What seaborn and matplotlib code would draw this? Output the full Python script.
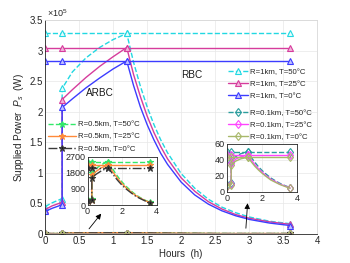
import numpy as np
import matplotlib
matplotlib.use('Agg')
import matplotlib.pyplot as plt
import seaborn as sns
from matplotlib.lines import Line2D
from matplotlib.ticker import FuncFormatter

# ---- data ----
temps = [50, 25, 0]

# R = 1 km, supplied power in units of 1e5 W
hours_1km = [0, 0.1, 0.25, 0.25, 0.4, 0.6, 0.8, 1.0, 1.2, 1.3, 1.4, 1.5, 1.6, 1.7,
             1.8, 2.0, 2.2, 2.4, 2.6, 2.8, 3.0, 3.3, 3.6]
p_1km_50 = [0.45, 0.51, 0.58, 2.38, 2.65, 2.88, 3.05, 3.18, 3.28, 2.81, 2.42, 2.08, 1.79, 1.54,
            1.33, 0.99, 0.75, 0.57, 0.44, 0.35, 0.28, 0.21, 0.17]
p_1km_25 = [0.40, 0.46, 0.52, 2.20, 2.36, 2.56, 2.74, 2.90, 3.05, 2.61, 2.25, 1.93, 1.66, 1.43,
            1.23, 0.92, 0.70, 0.53, 0.41, 0.32, 0.26, 0.20, 0.16]
p_1km_0 = [0.37, 0.42, 0.48, 2.07, 2.21, 2.39, 2.55, 2.70, 2.83, 2.43, 2.08, 1.79, 1.54, 1.32,
           1.14, 0.85, 0.64, 0.49, 0.38, 0.30, 0.24, 0.18, 0.14]

# R = 0.5 km and R = 0.1 km, supplied power in W
hours_short = [0, 0.1, 0.25, 0.25, 0.5, 0.8, 1.2, 1.4, 1.6, 1.8, 2.0, 2.2, 2.5, 2.8, 3.0, 3.3, 3.6]
p_05km_50 = [280, 305, 330, 1770, 2040, 2260, 2420, 2100, 1790, 1520, 1280, 1070, 800, 560, 440, 280, 150]
p_05km_25 = [250, 275, 300, 1650, 1880, 2080, 2240, 1940, 1660, 1410, 1190, 990, 740, 520, 410, 260, 140]
p_05km_0 = [230, 255, 280, 1530, 1720, 1910, 2085, 1810, 1540, 1310, 1100, 920, 690, 480, 380, 240, 130]
p_01km_50 = [9, 10, 11, 38, 44, 48, 50, 43, 37, 31.5, 27, 23, 17.5, 13.5, 11, 8, 5.5]
p_01km_25 = [8, 9, 10, 36, 41, 44, 46, 40, 34, 29, 25, 21, 16, 12.5, 10, 7.5, 5]
p_01km_0 = [7.5, 8.5, 9, 34, 38.5, 41.5, 43.4, 37.5, 32, 27.5, 23.5, 20, 15, 11.7, 9.5, 7, 4.7]

# rated (maximum) power levels
hours_cap = [0, 0.25, 1.2, 3.6]
cap_1km = [3.28, 3.05, 2.83]   # 1e5 W
cap_05km = [2420, 2240, 2085]  # W
cap_01km = [50, 46, 43.4]      # W

# ---- styles ----
style_1km = [dict(color='#22d8e2', ls='--', marker='^', mfc='#e6fbfc'),
             dict(color='#d63c9c', ls='-', marker='^', mfc='#f2b4da'),
             dict(color='#3c3cff', ls='-', marker='^', mfc='#c0c0ff')]
style_05km = [dict(color='#33e86a', ls='--', marker='*', mfc='#33e86a'),
              dict(color='#ff8a3a', ls='-', marker='*', mfc='#ff8a3a'),
              dict(color='#3a3a3a', ls='-.', marker='*', mfc='#1a1a1a')]
style_01km = [dict(color='#2a9d9d', ls='--', marker='d', mfc='none'),
              dict(color='#ff44ff', ls='-', marker='d', mfc='none'),
              dict(color='#a8b86a', ls='-', marker='d', mfc='none')]

idx_1km = [0, 2, 3, 8, 22]
idx_short = [0, 2, 3, 6, 16]


def draw(ax, x, y, st, every, lw=1.0, ms=4.5):
    sns.lineplot(x=x, y=y, ax=ax, sort=False, estimator=None, legend=False,
                 color=st['color'], linestyle=st['ls'], marker=st['marker'],
                 markevery=every, markersize=ms, markerfacecolor=st['mfc'],
                 markeredgecolor=st['color'], markeredgewidth=0.8, linewidth=lw)


def style_axes(ax, fs=6.5):
    ax.tick_params(direction='in', length=2, labelsize=fs, pad=1.5, colors='#262626')
    ax.grid(True, color='#e8e8e8', lw=0.5)
    for s in ax.spines.values():
        s.set_color('#262626')
        s.set_linewidth(0.6)


def main():
    sns.set_theme(style='whitegrid')
    plt.rcParams['font.family'] = ['Liberation Sans', 'DejaVu Sans']
    plt.rcParams['mathtext.fontset'] = 'custom'
    plt.rcParams['mathtext.rm'] = 'Liberation Sans'
    plt.rcParams['mathtext.it'] = 'Liberation Sans:italic'

    fig = plt.figure(figsize=(3.5, 2.63), dpi=100)
    ax = fig.add_axes([0.129, 0.110, 0.777, 0.814])

    series_1km = [p_1km_50, p_1km_25, p_1km_0]
    series_05 = [p_05km_50, p_05km_25, p_05km_0]
    series_01 = [p_01km_50, p_01km_25, p_01km_0]

    # main axes, everything in W
    for vals, cap, st in zip(series_1km, cap_1km, style_1km):
        draw(ax, hours_cap, [cap * 1e5] * len(hours_cap), st, None)
        draw(ax, hours_1km, np.array(vals) * 1e5, st, idx_1km)
    for vals, cap, st in zip(series_05, cap_05km, style_05km):
        draw(ax, hours_cap, [cap] * len(hours_cap), st, None, ms=5)
        draw(ax, hours_short, vals, st, idx_short, ms=5)
    for vals, cap, st in zip(series_01, cap_01km, style_01km):
        draw(ax, hours_cap, [cap] * len(hours_cap), st, None)
        draw(ax, hours_short, vals, st, idx_short)

    ax.set_xlim(0, 4)
    ax.set_ylim(0, 3.5e5)
    ax.set_xticks(np.arange(0, 4.01, 0.5))
    ax.set_yticks(np.arange(0, 3.51e5, 0.5e5))
    ax.xaxis.set_major_formatter(FuncFormatter(lambda v, p: '%g' % v))
    ax.yaxis.set_major_formatter(FuncFormatter(lambda v, p: '%g' % (v / 1e5)))
    style_axes(ax, fs=7)
    ax.spines['top'].set_color('#d8d8d8')
    ax.spines['right'].set_color('#d8d8d8')
    ax.text(0.005, 1.003, r'$\times10^5$', transform=ax.transAxes, ha='left', va='bottom',
            fontsize=6.5, color='#262626')
    ax.set_xlabel('Hours  (h)', fontsize=7, labelpad=2, color='#262626')
    ax.set_ylabel('Supplied Power  $P_s$  (W)', fontsize=7.2, labelpad=3, color='#262626')

    ax.text(0.81, 2.31e5, 'ARBC', fontsize=7.2, ha='center', va='center', color='#1a1a1a')
    ax.text(2.16, 2.6e5, 'RBC', fontsize=7.2, ha='center', va='center', color='#1a1a1a')

    # arrows pointing at the zoomed insets
    arrow = dict(arrowstyle='-|>', color='black', lw=0.6, mutation_scale=8)
    ax.annotate('', xy=(0.85, 0.37e5), xytext=(0.62, 0.05e5), arrowprops=arrow)
    ax.annotate('', xy=(2.98, 0.55e5), xytext=(2.95, 0.05e5), arrowprops=arrow)

    # legends
    def handles(styles, ms=4.5):
        return [Line2D([0], [0], color=s['color'], ls=s['ls'], marker=s['marker'], lw=1.0,
                       markersize=ms, markerfacecolor=s['mfc'], markeredgecolor=s['color'],
                       markeredgewidth=0.8) for s in styles]

    leg_kw = dict(frameon=False, fontsize=5.6, loc='upper left', borderpad=0, borderaxespad=0,
                  handletextpad=0.3, labelspacing=0.6, numpoints=1,
                  bbox_transform=fig.transFigure)
    lab_1 = ['R=1km, T=%d°C' % t for t in temps]
    lab_05 = ['R=0.5km, T=%d°C' % t for t in temps]
    lab_01 = ['R=0.1km, T=%d°C' % t for t in temps]
    l1 = ax.legend(handles(style_1km), lab_1, bbox_to_anchor=(0.651, 0.740),
                   handlelength=2.6, **leg_kw)
    ax.add_artist(l1)
    l2 = ax.legend(handles(style_01km), lab_01, bbox_to_anchor=(0.651, 0.584),
                   handlelength=2.6, **leg_kw)
    ax.add_artist(l2)
    ax.legend(handles(style_05km, ms=5), lab_05, bbox_to_anchor=(0.136, 0.540),
              handlelength=3.6, **leg_kw)

    # inset: R = 0.5 km
    ins1 = fig.add_axes([0.250, 0.2205, 0.198, 0.1837])
    ins1.set_facecolor('white')
    for vals, cap, st in zip(series_05, cap_05km, style_05km):
        draw(ins1, hours_cap, [cap] * len(hours_cap), st, None, ms=5)
        draw(ins1, hours_short, vals, st, idx_short, ms=5)
    ins1.set_xlim(0, 4)
    ins1.set_ylim(0, 2700)
    ins1.set_xticks([0, 2, 4])
    ins1.set_yticks([0, 900, 1800, 2700])
    style_axes(ins1)
    ins1.set_xlabel('')
    ins1.set_ylabel('')

    # inset: R = 0.1 km
    ins2 = fig.add_axes([0.648, 0.270, 0.201, 0.1825])
    ins2.set_facecolor('white')
    for vals, cap, st in zip(series_01, cap_01km, style_01km):
        draw(ins2, hours_cap, [cap] * len(hours_cap), st, None)
        draw(ins2, hours_short, vals, st, idx_short)
    ins2.set_xlim(0, 4)
    ins2.set_ylim(0, 60)
    ins2.set_xticks([0, 2, 4])
    ins2.set_yticks([0, 20, 40, 60])
    style_axes(ins2)
    ins2.set_xlabel('')
    ins2.set_ylabel('')

    fig.savefig('out.png', dpi=100)


if __name__ == '__main__':
    main()
